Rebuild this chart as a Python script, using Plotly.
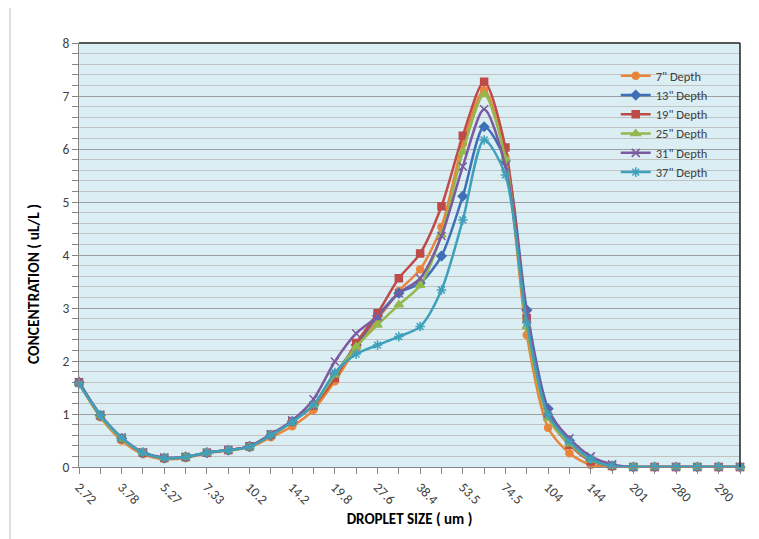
import plotly.graph_objects as go

sizes = ["2.72", "3.20", "3.78", "4.46", "5.27", "6.21", "7.33", "8.65", "10.2", "12.1",
         "14.2", "16.8", "19.8", "23.4", "27.6", "32.6", "38.4", "45.3", "53.5", "63.1",
         "74.5", "87.9", "104", "122", "144", "170", "201", "237", "280", "285", "290", "300"]
shown_labels = ["2.72", "3.78", "5.27", "7.33", "10.2", "14.2", "19.8", "27.6", "38.4",
                "53.5", "74.5", "104", "144", "201", "280", "290"]

depth_7 = [1.58, 0.94, 0.50, 0.24, 0.15, 0.17, 0.26, 0.31, 0.37, 0.56, 0.77, 1.08, 1.62, 2.24, 2.78, 3.32,
           3.73, 4.53, 6.10, 7.11, 5.85, 2.49, 0.74, 0.26, 0.04, 0.01, 0, 0, 0, 0, 0, 0]
depth_13 = [1.60, 0.97, 0.54, 0.27, 0.17, 0.19, 0.27, 0.32, 0.39, 0.60, 0.86, 1.17, 1.75, 2.30, 2.85, 3.28,
            3.47, 3.98, 5.11, 6.42, 5.78, 2.96, 1.10, 0.50, 0.12, 0.02, 0, 0, 0, 0, 0, 0]
depth_19 = [1.60, 0.97, 0.54, 0.27, 0.17, 0.19, 0.27, 0.32, 0.39, 0.61, 0.86, 1.16, 1.68, 2.34, 2.90, 3.56,
            4.03, 4.92, 6.25, 7.27, 6.03, 2.81, 0.95, 0.42, 0.11, 0.02, 0, 0, 0, 0, 0, 0]
depth_25 = [1.58, 0.96, 0.53, 0.27, 0.17, 0.19, 0.27, 0.32, 0.38, 0.60, 0.85, 1.17, 1.74, 2.27, 2.68, 3.06,
            3.43, 4.38, 5.95, 7.03, 5.82, 2.65, 0.92, 0.44, 0.13, 0.02, 0, 0, 0, 0, 0, 0]
depth_31 = [1.60, 0.99, 0.56, 0.28, 0.18, 0.19, 0.27, 0.32, 0.39, 0.62, 0.88, 1.28, 1.99, 2.52, 2.84, 3.28,
            3.56, 4.36, 5.67, 6.75, 5.67, 2.90, 1.05, 0.54, 0.20, 0.05, 0, 0, 0, 0, 0, 0]
depth_37 = [1.57, 0.98, 0.55, 0.27, 0.17, 0.19, 0.27, 0.32, 0.38, 0.60, 0.85, 1.17, 1.78, 2.13, 2.30, 2.46,
            2.65, 3.34, 4.66, 6.17, 5.51, 2.72, 0.98, 0.48, 0.15, 0.02, 0, 0, 0, 0, 0, 0]

series = [
    ('7" Depth', depth_7, "#E9853B", "circle", 7),
    ('13" Depth', depth_13, "#3F6FB5", "diamond", 7),
    ('19" Depth', depth_19, "#BE4B48", "square", 7),
    ('25" Depth', depth_25, "#94B84D", "triangle-up", 8),
    ('31" Depth', depth_31, "#7B5BA0", "x-thin-open", 8),
    ('37" Depth', depth_37, "#3FA0BA", "asterisk-open", 8),
]

FONT = "Carlito, Lato, 'Liberation Sans', sans-serif"

fig = go.Figure()
for name, vals, color, sym, msize in series:
    fig.add_trace(go.Scatter(
        x=sizes, y=vals, name=name, mode="lines+markers",
        line=dict(color=color, width=2.5, shape="spline", smoothing=0.8),
        marker=dict(symbol=sym, size=msize, color=color, line=dict(color=color, width=1.5)),
        cliponaxis=False,
    ))

ticktext = [shown_labels[i // 2] if i % 2 == 0 else "" for i in range(len(sizes))]

# page body has an 8px margin: compensate so the plot area lands at x 79..740, y 43..467
fig.update_layout(
    width=759, height=539,
    margin=dict(l=71, r=27, t=35, b=80),
    paper_bgcolor="white",
    plot_bgcolor="#DBEEF4",
    font=dict(family=FONT, size=13, color="#404040"),
    showlegend=True,
    legend=dict(x=0.812, y=0.957, xanchor="left", yanchor="top",
                bgcolor="rgba(0,0,0,0)", font=dict(size=12.5, color="#404040"),
                tracegroupgap=0, itemwidth=30),
    xaxis=dict(
        type="category", categoryorder="array", categoryarray=sizes,
        range=[0, len(sizes) - 1],
        tickmode="array", tickvals=sizes, ticktext=ticktext, tickangle=45,
        ticks="outside", ticklen=6, tickcolor="#868686",
        showline=True, linecolor="#868686", linewidth=1,
        showgrid=False, zeroline=False,
        title=dict(text="<b>DROPLET SIZE ( um )</b>", font=dict(size=15, color="#000000"), standoff=6),
        tickfont=dict(size=13.5, color="#404040"),
    ),
    yaxis=dict(
        range=[0, 8], dtick=1, tick0=0,
        ticks="outside", ticklen=6, tickcolor="#868686",
        showline=True, linecolor="#868686", linewidth=1,
        showgrid=True, gridcolor="#9E9E9E", gridwidth=1,
        zeroline=False,
        minor=dict(dtick=0.2, showgrid=True, gridcolor="#C2C2C2", gridwidth=1,
                   ticks="outside", ticklen=6, tickcolor="#868686"),
        tickfont=dict(size=13.5, color="#404040"),
    ),
    annotations=[
        dict(text="<b>CONCENTRATION ( uL/L )</b>", textangle=-90, showarrow=False,
             xref="paper", yref="paper", x=(33 - 79) / 661, y=(467 - 284) / 424,
             xanchor="center", yanchor="middle",
             font=dict(family=FONT, size=15.5, color="#000000")),
    ],
    shapes=[
        dict(type="line", xref="paper", yref="paper", x0=0, x1=1, y0=1, y1=1,
             line=dict(color="#222222", width=1.5)),
        dict(type="line", xref="paper", yref="paper", x0=1, x1=1, y0=0, y1=1,
             line=dict(color="#222222", width=1.5)),
        dict(type="line", xref="paper", yref="paper", x0=-0.1044, x1=-0.1044, y0=-0.17, y1=1.1,
             line=dict(color="#BFBFBF", width=1)),
    ],
)

fig.write_html("out.html")
